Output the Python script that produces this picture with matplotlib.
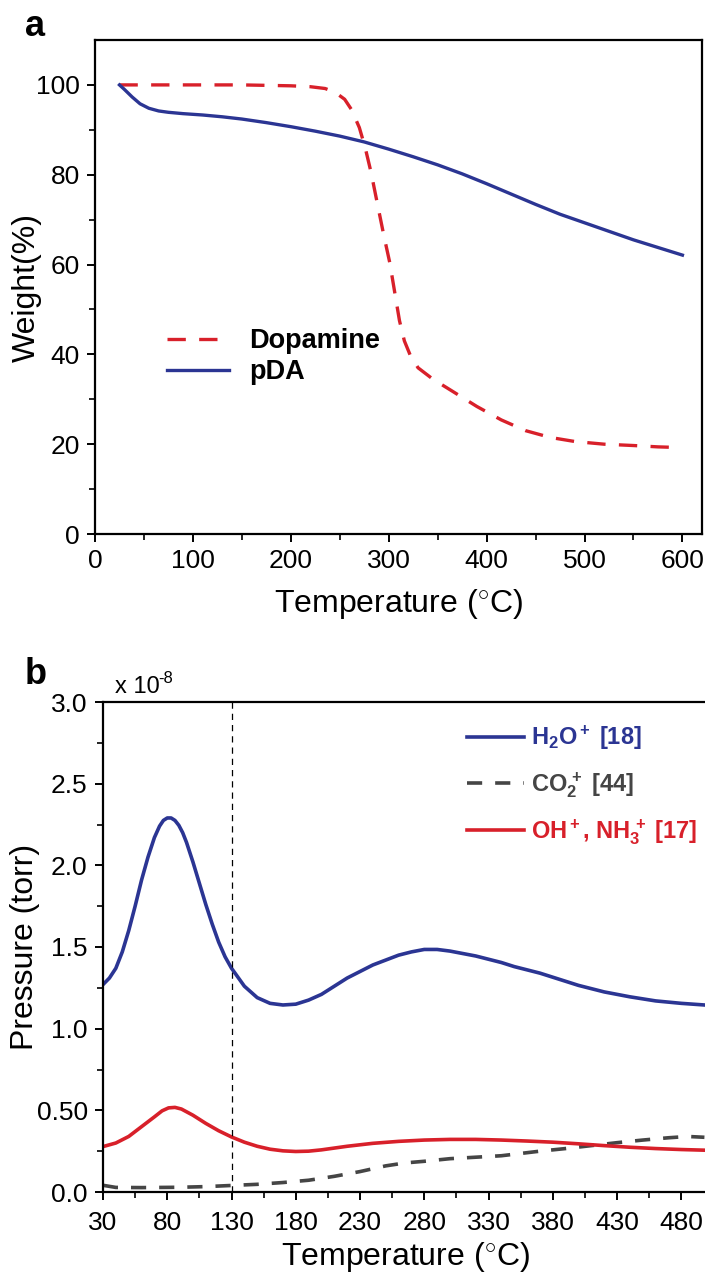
import numpy as np
import matplotlib.pyplot as plt
from matplotlib.ticker import MultipleLocator, FixedLocator, FixedFormatter

plt.rcParams['font.family'] = ['Liberation Sans', 'DejaVu Sans']
plt.rcParams['mathtext.fontset'] = 'custom'
plt.rcParams['mathtext.rm'] = 'Liberation Sans'
plt.rcParams['mathtext.bf'] = 'Liberation Sans:bold'
plt.rcParams['mathtext.it'] = 'Liberation Sans:italic'

# ---- panel a: TGA data ----
dopa_T = [25, 50, 100, 150, 200, 220, 235, 245, 255, 262, 270, 276, 282, 288, 295,
          301, 306, 311, 316, 322, 330, 345, 365, 390, 415, 440, 465, 490, 520,
          550, 575, 590]
dopa_W = [100, 100, 100, 100, 99.8, 99.6, 99.2, 98.4, 96.8, 94.5, 90.5, 86.0, 80.5,
          74.0, 66.5, 60.5, 54.0, 47.5, 43.0, 39.8, 37.0, 34.5, 31.8, 28.4, 25.4,
          23.0, 21.5, 20.6, 20.0, 19.7, 19.4, 19.3]

pda_T = [25, 30, 38, 46, 55, 65, 75, 90, 110, 130, 150, 175, 200, 225, 250, 275,
         300, 325, 350, 375, 400, 425, 450, 475, 500, 525, 550, 575, 600]
pda_W = [100, 99.0, 97.3, 95.8, 94.8, 94.2, 93.9, 93.6, 93.3, 92.9, 92.4, 91.6,
         90.7, 89.7, 88.6, 87.3, 85.7, 84.0, 82.2, 80.2, 78.0, 75.7, 73.4, 71.2,
         69.3, 67.4, 65.5, 63.8, 62.1]

# ---- panel b: MS ion currents (x 1e-8 torr) ----
h2o_T = [30, 35, 40, 45, 50, 55, 60, 65, 70, 74, 77, 80, 83, 86, 89, 92, 95, 100,
         105, 110, 115, 120, 125, 130, 140, 150, 160, 170, 180, 190, 200, 210, 220,
         230, 240, 250, 260, 270, 280, 290, 300, 310, 320, 330, 340, 350, 360, 370,
         380, 390, 400, 420, 440, 460, 480, 498]
h2o_P = [1.27, 1.31, 1.37, 1.47, 1.60, 1.75, 1.91, 2.05, 2.17, 2.24, 2.275, 2.29,
         2.29, 2.275, 2.245, 2.20, 2.14, 2.02, 1.89, 1.76, 1.64, 1.53, 1.44, 1.37,
         1.26, 1.19, 1.155, 1.145, 1.15, 1.175, 1.21, 1.26, 1.31, 1.35, 1.39, 1.42,
         1.45, 1.47, 1.485, 1.485, 1.475, 1.46, 1.445, 1.425, 1.405, 1.38, 1.36,
         1.34, 1.315, 1.29, 1.265, 1.225, 1.195, 1.17, 1.155, 1.145]

co2_T = [30, 40, 60, 90, 110, 130, 150, 170, 190, 210, 230, 250, 265, 280, 300, 320,
         340, 355, 370, 390, 410, 430, 450, 470, 485, 498]
co2_P = [0.041, 0.028, 0.027, 0.029, 0.033, 0.040, 0.047, 0.058, 0.072, 0.096, 0.125,
         0.160, 0.178, 0.188, 0.204, 0.213, 0.222, 0.236, 0.250, 0.266, 0.284, 0.302,
         0.318, 0.332, 0.340, 0.335]

oh_T = [30, 40, 50, 60, 70, 76, 81, 86, 91, 100, 110, 120, 130, 140, 150, 160, 170,
        180, 190, 200, 220, 240, 260, 280, 300, 320, 340, 360, 380, 400, 420, 440,
        460, 480, 498]
oh_P = [0.278, 0.30, 0.34, 0.40, 0.46, 0.497, 0.515, 0.518, 0.508, 0.47, 0.42,
        0.375, 0.337, 0.305, 0.28, 0.262, 0.252, 0.248, 0.25, 0.258, 0.28, 0.298,
        0.31, 0.318, 0.322, 0.322, 0.318, 0.312, 0.305, 0.295, 0.284, 0.274, 0.266,
        0.26, 0.256]

RED = '#d8202a'
BLUE = '#2b3593'
GRAY = '#454545'

W, H = 705, 1278
fig = plt.figure(figsize=(W / 100, H / 100), dpi=100)


def frac(x0, y0, x1, y1):
    # pixel box -> figure fraction [left, bottom, width, height]
    return [x0 / W, 1 - y1 / H, (x1 - x0) / W, (y1 - y0) / H]


tick_fs = 19
label_fs = 23

# ---------------- panel a ----------------
ax1 = fig.add_axes(frac(95, 40, 702, 534))
ax1.plot(dopa_T, dopa_W, color=RED, lw=2.4, ls=(0, (5.5, 4)), label='Dopamine')
ax1.plot(pda_T, pda_W, color=BLUE, lw=2.4, label='pDA')
ax1.set_xlim(0, 620)
ax1.set_ylim(0, 110)
ax1.xaxis.set_major_locator(MultipleLocator(100))
ax1.xaxis.set_minor_locator(MultipleLocator(50))
ax1.yaxis.set_major_locator(FixedLocator([0, 20, 40, 60, 80, 100]))
ax1.yaxis.set_minor_locator(FixedLocator([10, 30, 50, 70, 90]))
ax1.set_xlabel('Temperature ($^{\\circ}$C)', fontsize=label_fs, labelpad=10)
ax1.set_ylabel('Weight(%)', fontsize=label_fs)
ax1.yaxis.set_label_coords(-0.088, 0.5)
leg1 = ax1.legend(loc='upper left', bbox_to_anchor=(0.118, 0.417), frameon=False,
                  prop={'weight': 'bold', 'size': 19.5}, handlelength=2.3,
                  handletextpad=0.75, labelspacing=0.2, borderpad=0, borderaxespad=0)
fig.text(25 / W, 1 - 36 / H, 'a', fontsize=26, fontweight='bold')

# ---------------- panel b ----------------
ax2 = fig.add_axes(frac(103, 702, 707, 1192))
ax2.plot(h2o_T, h2o_P, color=BLUE, lw=2.6, label=r'$\mathbf{H_2O^+}$ [18]')
ax2.plot(co2_T, co2_P, color=GRAY, lw=2.6, ls=(0, (4.2, 3.6)), label=r'$\mathbf{CO_2^{\,+}}$ [44]')
ax2.plot(oh_T, oh_P, color=RED, lw=2.6, label=r'$\mathbf{OH^+}$, $\mathbf{NH_3^{\,+}}$ [17]')
ax2.axvline(130, color='black', lw=0.9, ls=(0, (5, 4)))
ax2.set_xlim(30, 500)
ax2.set_ylim(0, 3.0)
ax2.xaxis.set_major_locator(FixedLocator(np.arange(30, 481, 50)))
ax2.xaxis.set_minor_locator(FixedLocator(np.arange(55, 500, 50)))
ax2.yaxis.set_major_locator(FixedLocator([0, 0.5, 1.0, 1.5, 2.0, 2.5, 3.0]))
ax2.yaxis.set_major_formatter(FixedFormatter(['0.0', '0.50', '1.0', '1.5', '2.0', '2.5', '3.0']))
ax2.yaxis.set_minor_locator(FixedLocator([0.25, 0.75, 1.25, 1.75, 2.25, 2.75]))
ax2.spines['right'].set_visible(False)
ax2.set_xlabel('Temperature ($^{\\circ}$C)', fontsize=label_fs, labelpad=3)
ax2.set_ylabel('Pressure (torr)', fontsize=label_fs)
ax2.yaxis.set_label_coords(-0.105, 0.5)
leg2 = ax2.legend(loc='upper left', bbox_to_anchor=(0.603, 0.955), frameon=False,
                  prop={'weight': 'bold', 'size': 17}, handlelength=2.4,
                  handletextpad=0.3, labelspacing=0.75, borderpad=0, borderaxespad=0)
for txt, c in zip(leg2.get_texts(), [BLUE, GRAY, RED]):
    txt.set_color(c)
# "x 10-8" multiplier, hyphen as in the original
fig.text(115 / W, 1 - 693 / H, 'x 10', fontsize=17)
fig.text(158 / W, 1 - 683 / H, '-8', fontsize=12)
fig.text(25 / W, 1 - 684 / H, 'b', fontsize=26, fontweight='bold')

for ax in (ax1, ax2):
    for s in ax.spines.values():
        s.set_linewidth(1.6)
    ax.tick_params(which='major', direction='out', length=6, width=1.4,
                   labelsize=tick_fs, pad=5)
    ax.tick_params(which='minor', direction='out', length=4, width=1.2)
ax2.tick_params(axis='x', which='major', pad=8)

fig.savefig('out.png', dpi=100)
